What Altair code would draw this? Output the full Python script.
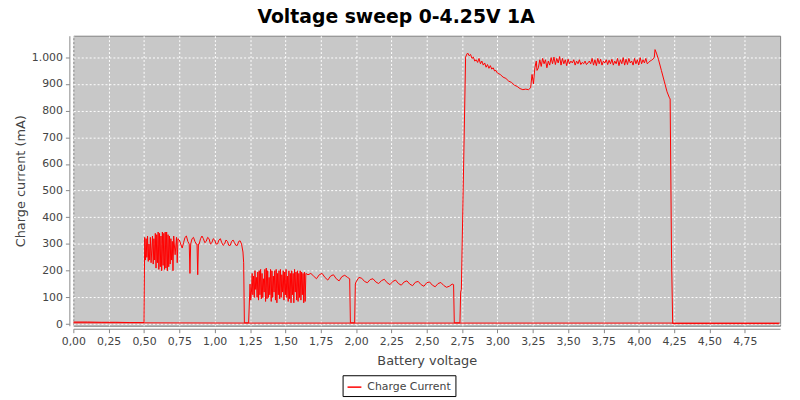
import altair as alt
import pandas as pd

# ---- data ----
# segment A: 0 .. 0.5 V, idle current
seg_a_v = [0.00, 0.10, 0.20, 0.30, 0.40, 0.50]
seg_a_ma = [8, 8, 7, 7, 6, 6]

# segment B: 0.5 .. 1.25 V, first oscillating plateau
seg_b_v = [0.505, 0.51, 0.515, 0.52, 0.525, 0.53, 0.535, 0.54, 0.545, 0.55, 0.56, 0.565,
           0.57, 0.575, 0.58, 0.585, 0.59, 0.595, 0.60, 0.605, 0.61, 0.615, 0.62, 0.625,
           0.63, 0.635, 0.64, 0.645, 0.65, 0.655, 0.66, 0.665, 0.67, 0.675, 0.68, 0.685,
           0.69, 0.695, 0.70, 0.705, 0.71, 0.72, 0.73, 0.735, 0.74,
           0.75, 0.76, 0.77, 0.78, 0.79, 0.80, 0.81, 0.82, 0.825, 0.83, 0.84, 0.85, 0.86,
           0.87, 0.875, 0.88, 0.885, 0.89, 0.90, 0.91, 0.92, 0.93, 0.94, 0.95, 0.96, 0.97,
           0.98, 0.99, 1.00, 1.01, 1.02, 1.03, 1.04, 1.05, 1.06, 1.07, 1.08, 1.09, 1.10,
           1.11, 1.12, 1.13, 1.14, 1.15, 1.16, 1.17, 1.18, 1.19, 1.20, 1.205, 1.21, 1.24]
seg_b_ma = [325, 240, 320, 250, 330, 235, 300, 240, 325, 230, 330, 225,
            320, 240, 340, 210, 335, 230, 345, 205, 340, 215, 330, 200,
            345, 220, 340, 205, 345, 210, 345, 200, 335, 215, 330, 225,
            320, 240, 310, 200, 330, 260, 325, 230, 320,
            315, 300, 285, 305, 325, 330, 310, 300, 190, 300, 320, 325, 310,
            300, 300, 185, 300, 300, 320, 330, 320, 305, 310, 325, 320, 300,
            305, 320, 315, 300, 300, 315, 320, 305, 295, 300, 315, 310, 295,
            295, 310, 315, 305, 295, 295, 310, 312, 300, 270, 230, 5, 5]

# segment C: 1.25 .. 1.99 V, second oscillating plateau
seg_c_v = [1.25, 1.255, 1.26, 1.265, 1.27, 1.275, 1.28, 1.285, 1.29, 1.295, 1.30, 1.305,
           1.31, 1.315, 1.32, 1.325, 1.33, 1.335, 1.34, 1.345, 1.35, 1.355, 1.36, 1.365,
           1.37, 1.375, 1.38, 1.385, 1.39, 1.395, 1.40, 1.405, 1.41, 1.415, 1.42, 1.425,
           1.43, 1.435, 1.44, 1.445, 1.45, 1.455, 1.46, 1.465, 1.47, 1.475, 1.48, 1.485,
           1.49, 1.495, 1.50, 1.505, 1.51, 1.515, 1.52, 1.525, 1.53, 1.535, 1.54, 1.545,
           1.55, 1.555, 1.56, 1.565, 1.57, 1.575, 1.58, 1.585, 1.59, 1.595, 1.60, 1.605,
           1.61, 1.615, 1.62, 1.625, 1.63, 1.635, 1.64, 1.645,
           1.66, 1.68, 1.70, 1.72, 1.74, 1.76, 1.78, 1.80, 1.82, 1.84, 1.86, 1.88, 1.90,
           1.92, 1.94, 1.955, 1.96, 1.99]
seg_c_ma = [150, 90, 120, 190, 110, 180, 100, 200, 130, 175, 100, 195,
            90, 200, 110, 205, 95, 190, 100, 170, 120, 205, 85, 210,
            95, 200, 100, 175, 110, 205, 85, 200, 100, 180, 120, 200,
            90, 205, 80, 190, 110, 200, 95, 205, 100, 185, 120, 200,
            90, 195, 110, 205, 100, 180, 85, 200, 95, 190, 80, 200,
            110, 190, 80, 205, 120, 195, 90, 200, 85, 190, 100, 200,
            90, 195, 110, 190, 80, 195, 85, 190,
            185, 190, 180, 170, 185, 190, 175, 165, 180, 185, 170, 162, 178,
            183, 175, 170, 5, 5]

# segment D: 2.0 .. 2.78 V, third plateau and jump
seg_d_v = [1.995, 2.00, 2.02, 2.04, 2.06, 2.08, 2.10, 2.12, 2.14, 2.16, 2.18, 2.20, 2.22,
           2.24, 2.26, 2.28, 2.30, 2.32, 2.34, 2.36, 2.38, 2.40, 2.42, 2.44, 2.46, 2.48,
           2.50, 2.52, 2.54, 2.56, 2.58, 2.60, 2.62, 2.64, 2.66, 2.68, 2.69, 2.695, 2.735,
           2.74, 2.745, 2.775]
seg_d_ma = [150, 158, 175, 172, 160, 155, 167, 170, 158, 152, 163, 168, 155,
            148, 160, 165, 152, 146, 158, 162, 150, 144, 157, 160, 148, 142,
            155, 158, 146, 140, 152, 156, 145, 138, 142, 150, 148, 5, 5,
            120, 130, 1000]

# segment E: 2.78 .. 4.24 V, full current plateau
seg_e_v = [2.785, 2.79, 2.80, 2.81, 2.82, 2.83, 2.84, 2.85, 2.86, 2.87, 2.88, 2.89, 2.90,
           2.91, 2.92, 2.93, 2.94, 2.95, 2.96, 2.97, 2.98, 2.99, 3.00, 3.02, 3.04, 3.06,
           3.08, 3.10, 3.12, 3.14, 3.16, 3.18, 3.20, 3.22, 3.235, 3.245, 3.255, 3.265,
           3.275, 3.28, 3.29, 3.30, 3.31, 3.32, 3.33, 3.34, 3.35, 3.36, 3.37, 3.38, 3.39,
           3.40, 3.41, 3.42, 3.43, 3.44, 3.45, 3.46, 3.47, 3.48, 3.49, 3.50, 3.51, 3.52,
           3.53, 3.54, 3.55, 3.56, 3.57, 3.58, 3.59, 3.60, 3.61, 3.62, 3.63, 3.64, 3.65,
           3.66, 3.67, 3.68, 3.69, 3.70, 3.71, 3.72, 3.73, 3.74, 3.75, 3.76, 3.77, 3.78,
           3.79, 3.80, 3.81, 3.82, 3.83, 3.84, 3.85, 3.86, 3.87, 3.88, 3.89, 3.90, 3.91,
           3.92, 3.93, 3.94, 3.95, 3.96, 3.97, 3.98, 3.99, 4.00, 4.01, 4.02, 4.03, 4.04,
           4.05, 4.06, 4.07, 4.08, 4.09, 4.10, 4.11, 4.115, 4.125, 4.14, 4.16, 4.18, 4.20,
           4.215, 4.222, 4.232, 4.24]
seg_e_ma = [1012, 1015, 1005, 1010, 995, 1000, 985, 990, 980, 995, 975, 985, 970,
            978, 962, 972, 958, 968, 955, 960, 948, 950, 940, 935, 925, 920,
            910, 905, 895, 890, 882, 878, 880, 878, 885, 935, 900, 960,
            985, 950, 960, 990, 965, 995, 975, 990, 960, 985, 970, 998, 975,
            1000, 972, 995, 978, 1002, 970, 995, 975, 990, 968, 992, 975, 985,
            978, 990, 970, 985, 975, 990, 972, 980, 975, 985, 972, 978, 985,
            975, 995, 970, 990, 968, 995, 975, 992, 970, 985, 978, 990, 972,
            988, 975, 992, 970, 985, 975, 995, 968, 990, 975, 998, 970, 992,
            972, 995, 978, 985, 970, 995, 975, 990, 970, 998, 975, 990, 978,
            995, 975, 980, 985, 988, 992, 1000, 1028, 1015, 990, 950, 910, 870,
            850, 843, 245, 2]

# segment F: tail to 5 V, then the return sweep back to 0 V
seg_f_v = [4.50, 4.99, 4.995, 3.75, 2.50, 1.25, 0.40, 0.0]
seg_f_ma = [2, 2, 4, 4, 4, 4, 5, 5]

volts = seg_a_v + seg_b_v + seg_c_v + seg_d_v + seg_e_v + seg_f_v
current = seg_a_ma + seg_b_ma + seg_c_ma + seg_d_ma + seg_e_ma + seg_f_ma

x_ticks = [0.0, 0.25, 0.5, 0.75, 1.0, 1.25, 1.5, 1.75, 2.0, 2.25, 2.5, 2.75,
           3.0, 3.25, 3.5, 3.75, 4.0, 4.25, 4.5, 4.75]
y_ticks = [0, 100, 200, 300, 400, 500, 600, 700, 800, 900, 1000]

df = pd.DataFrame({
    "v": volts,
    "ma": current,
    "idx": list(range(len(volts))),
    "series": ["Charge Current"] * len(volts),
})

FONT = "DejaVu Sans"
TXT = "#444444"

chart = alt.Chart(df).mark_line(strokeWidth=1, clip=True).encode(
    x=alt.X("v:Q",
            scale=alt.Scale(domain=[0, 5.0], nice=False, zero=False),
            axis=alt.Axis(title="Battery voltage", values=x_ticks,
                          labelExpr="replace(format(datum.value, '.2f'), '.', ',')",
                          labelOverlap=False, labelFlush=False, labelBound=False,
                          offset=3, titlePadding=8)),
    y=alt.Y("ma:Q",
            scale=alt.Scale(domain=[-6, 1080], nice=False, zero=False),
            axis=alt.Axis(title="Charge current (mA)", values=y_ticks,
                          labelExpr="replace(format(datum.value, ','), ',', '.')",
                          labelOverlap=False, labelFlush=False,
                          offset=4, titlePadding=4)),
    color=alt.Color("series:N",
                    scale=alt.Scale(domain=["Charge Current"], range=["#ff0000"]),
                    legend=alt.Legend(title=None, orient="none", legendX=272, legendY=343,
                                      symbolType="stroke", symbolSize=196,
                                      symbolStrokeWidth=1.5, labelFontSize=11,
                                      labelFont=FONT, labelColor=TXT, labelOffset=5,
                                      padding=4, strokeColor="#000000",
                                      fillColor="#ffffff")),
    order=alt.Order("idx:Q"),
).properties(
    width=714,
    height=293,
    background="#ffffff",
    title=alt.TitleParams("Voltage sweep 0-4.25V 1A", font=FONT, fontSize=19,
                          fontWeight="bold", color="#000000", anchor="middle",
                          dx=-31, offset=9),
    autosize=alt.AutoSizeParams(type="none"),
    padding={"left": 66, "top": 26, "right": 12, "bottom": 73},
).configure_view(
    fill="#c8c8c8", stroke="#808080", strokeWidth=1,
).configure_axis(
    labelFont=FONT, labelFontSize=11, labelColor=TXT,
    titleFont=FONT, titleFontSize=13, titleColor=TXT, titleFontWeight="normal",
    domainColor="#888888", tickColor="#888888", tickSize=4, labelPadding=3,
    gridColor="#ffffff", gridDash=[2, 2], gridWidth=1, gridOpacity=1,
)

chart.save("out.html", embed_options={"renderer": "svg", "actions": False})
